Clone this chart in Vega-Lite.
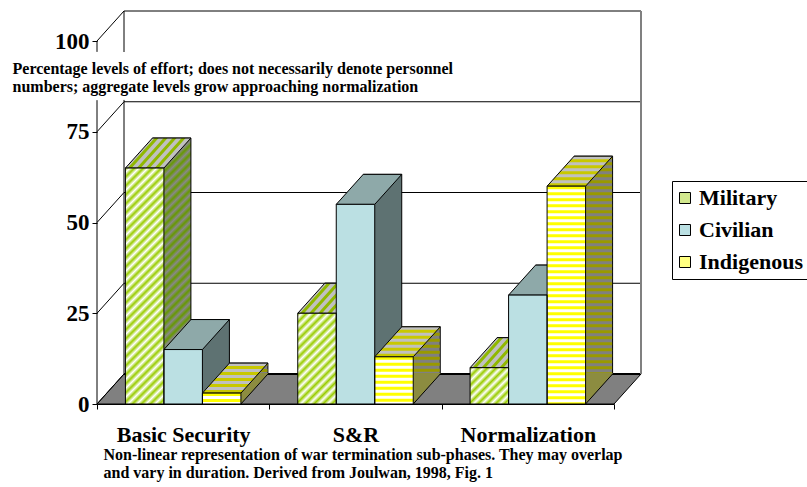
{
  "$schema": "https://vega.github.io/schema/vega-lite/v6.json",
  "width": 517,
  "height": 363,
  "autosize": {"type": "none"},
  "padding": {"left": 97, "top": 41, "right": 193, "bottom": 83},
  "background": "white",
  "config": {
    "view": {"stroke": null},
    "font": "Liberation Serif",
    "axis": {"labelFont": "Liberation Serif", "titleFont": "Liberation Serif"},
    "legend": {"labelFont": "Liberation Serif"}
  },
  "data": {"values": [
    {"phase": "Basic Security", "series": "Military", "value": 65},
    {"phase": "Basic Security", "series": "Civilian", "value": 15},
    {"phase": "Basic Security", "series": "Indigenous", "value": 3},
    {"phase": "S&R", "series": "Military", "value": 25},
    {"phase": "S&R", "series": "Civilian", "value": 55},
    {"phase": "S&R", "series": "Indigenous", "value": 13},
    {"phase": "Normalization", "series": "Military", "value": 10},
    {"phase": "Normalization", "series": "Civilian", "value": 30},
    {"phase": "Normalization", "series": "Indigenous", "value": 60}
  ]},
  "resolve": {"scale": {"x": "independent", "xOffset": "independent"}},
  "layer": [
    {
      "data": {"values": [{}]},
      "mark": {"type": "point", "shape": "M0,0 L517,0 L544,-30 L27,-30 Z", "size": 4, "filled": true, "fill": "#808080", "stroke": "black", "strokeWidth": 1, "opacity": 1},
      "encoding": {
        "x": {"datum": 0, "type": "quantitative", "scale": {"domain": [0, 3]}, "axis": null},
        "y": {
          "datum": 0, "type": "quantitative",
          "scale": {"domain": [0, 100], "nice": false},
          "axis": {
            "values": [0, 25, 50, 75, 100], "tickSize": 5, "tickColor": "black", "domain": false, "grid": false,
            "labelFont": "Liberation Serif", "labelFontSize": 23, "labelFontWeight": "bold", "labelColor": "black", "labelPadding": 3,
            "title": ["Percentage levels of effort; does not necessarily denote personnel", "numbers; aggregate levels grow approaching normalization"],
            "titleX": -85, "titleY": 32, "titleAngle": 0, "titleAlign": "left", "titleBaseline": "alphabetic",
            "titleFont": "Liberation Serif", "titleFontSize": 16, "titleFontWeight": "bold", "titleColor": "black", "titleLineHeight": 18
          }
        }
      }
    },
    {
      "data": {"values": [{"v": 0}, {"v": 25}, {"v": 50}, {"v": 75}, {"v": 100}]},
      "encoding": {"x": {"datum": 0, "type": "quantitative", "scale": {"domain": [0, 3]}, "axis": null}},
      "layer": [
        {
          "mark": {"type": "rule", "color": "black", "xOffset": 27, "x2Offset": 27, "yOffset": -30},
          "encoding": {
            "x2": {"datum": 3},
            "y": {"field": "v", "type": "quantitative"},
            "strokeWidth": {"condition": {"test": "datum.v === 0", "value": 2}, "value": 1}
          }
        },
        {
          "mark": {"type": "rule", "color": "black", "strokeWidth": 1, "x2Offset": 27, "y2Offset": -30},
          "encoding": {
            "x2": {"datum": 0},
            "y": {"field": "v", "type": "quantitative"},
            "y2": {"field": "v"}
          }
        },
        {
          "data": {"values": [{}]},
          "mark": {"type": "rule", "color": "black", "strokeWidth": 1, "xOffset": 27, "yOffset": -30, "y2Offset": -30},
          "encoding": {"y": {"datum": 0, "type": "quantitative"}, "y2": {"datum": 75.5}}
        },
        {
          "data": {"values": [{}]},
          "mark": {"type": "rule", "color": "black", "strokeWidth": 1, "xOffset": 27, "yOffset": -30, "y2Offset": -30},
          "encoding": {"y": {"datum": 88.7, "type": "quantitative"}, "y2": {"datum": 100}}
        },
        {
          "data": {"values": [{}]},
          "mark": {"type": "rule", "color": "black", "strokeWidth": 1},
          "encoding": {"y": {"datum": 0, "type": "quantitative"}, "y2": {"datum": 83.7}}
        },
        {
          "data": {"values": [{}]},
          "mark": {"type": "rule", "color": "black", "strokeWidth": 1},
          "encoding": {"y": {"datum": 97, "type": "quantitative"}, "y2": {"datum": 100}}
        },
        {
          "data": {"values": [{}]},
          "mark": {"type": "rule", "color": "#808080", "strokeWidth": 2, "xOffset": 27, "yOffset": -30, "y2Offset": -30},
          "encoding": {"x": {"datum": 3, "type": "quantitative", "axis": null}, "y": {"datum": 0, "type": "quantitative"}, "y2": {"datum": 100}}
        }
      ]
    },
    {
      "encoding": {
        "x": {"field": "phase", "type": "nominal", "sort": ["Basic Security", "S&R", "Normalization"], "scale": {"range": [27, 544], "paddingInner": 0, "paddingOuter": 0}, "axis": null},
        "xOffset": {"field": "series", "type": "nominal", "sort": ["Military", "Civilian", "Indigenous"], "scale": {"paddingInner": 0, "paddingOuter": 0.7381}},
        "y": {"field": "value", "type": "quantitative"}
      },
      "layer": [
        {
          "mark": {"type": "bar", "yOffset": -30, "y2Offset": -30, "stroke": "black", "strokeWidth": 1},
          "encoding": {
            "y2": {"datum": 0},
            "fill": {"condition": [
              {"test": "datum.series === 'Military' && datum.phase === 'Basic Security'", "value": {"gradient": "linear", "x1": 0, "y1": 0, "x2": 0.1848, "y2": 1.133, "stops": [{"offset":0,"color":"#690"},{"offset":0.0164,"color":"#888"},{"offset":0.0328,"color":"#690"},{"offset":0.0492,"color":"#888"},{"offset":0.0656,"color":"#690"},{"offset":0.082,"color":"#888"},{"offset":0.0984,"color":"#690"},{"offset":0.1148,"color":"#888"},{"offset":0.1311,"color":"#690"},{"offset":0.1475,"color":"#888"},{"offset":0.1639,"color":"#690"},{"offset":0.1803,"color":"#888"},{"offset":0.1967,"color":"#690"},{"offset":0.2131,"color":"#888"},{"offset":0.2295,"color":"#690"},{"offset":0.2459,"color":"#888"},{"offset":0.2623,"color":"#690"},{"offset":0.2787,"color":"#888"},{"offset":0.2951,"color":"#690"},{"offset":0.3115,"color":"#888"},{"offset":0.3279,"color":"#690"},{"offset":0.3443,"color":"#888"},{"offset":0.3607,"color":"#690"},{"offset":0.377,"color":"#888"},{"offset":0.3934,"color":"#690"},{"offset":0.4098,"color":"#888"},{"offset":0.4262,"color":"#690"},{"offset":0.4426,"color":"#888"},{"offset":0.459,"color":"#690"},{"offset":0.4754,"color":"#888"},{"offset":0.4918,"color":"#690"},{"offset":0.5082,"color":"#888"},{"offset":0.5246,"color":"#690"},{"offset":0.541,"color":"#888"},{"offset":0.5574,"color":"#690"},{"offset":0.5738,"color":"#888"},{"offset":0.5902,"color":"#690"},{"offset":0.6066,"color":"#888"},{"offset":0.623,"color":"#690"},{"offset":0.6393,"color":"#888"},{"offset":0.6557,"color":"#690"},{"offset":0.6721,"color":"#888"},{"offset":0.6885,"color":"#690"},{"offset":0.7049,"color":"#888"},{"offset":0.7213,"color":"#690"},{"offset":0.7377,"color":"#888"},{"offset":0.7541,"color":"#690"},{"offset":0.7705,"color":"#888"},{"offset":0.7869,"color":"#690"},{"offset":0.8033,"color":"#888"},{"offset":0.8197,"color":"#690"},{"offset":0.8361,"color":"#888"},{"offset":0.8525,"color":"#690"},{"offset":0.8689,"color":"#888"},{"offset":0.8852,"color":"#690"},{"offset":0.9016,"color":"#888"},{"offset":0.918,"color":"#690"},{"offset":0.9344,"color":"#888"},{"offset":0.9508,"color":"#690"},{"offset":0.9672,"color":"#888"},{"offset":0.9836,"color":"#690"},{"offset":1,"color":"#888"}]}},
              {"test": "datum.series === 'Military' && datum.phase === 'S&R'", "value": {"gradient": "linear", "x1": 0, "y1": 0, "x2": 0.5121, "y2": 1.207, "stops": [{"offset":0,"color":"#690"},{"offset":0.0345,"color":"#888"},{"offset":0.069,"color":"#690"},{"offset":0.1034,"color":"#888"},{"offset":0.1379,"color":"#690"},{"offset":0.1724,"color":"#888"},{"offset":0.2069,"color":"#690"},{"offset":0.2414,"color":"#888"},{"offset":0.2759,"color":"#690"},{"offset":0.3103,"color":"#888"},{"offset":0.3448,"color":"#690"},{"offset":0.3793,"color":"#888"},{"offset":0.4138,"color":"#690"},{"offset":0.4483,"color":"#888"},{"offset":0.4828,"color":"#690"},{"offset":0.5172,"color":"#888"},{"offset":0.5517,"color":"#690"},{"offset":0.5862,"color":"#888"},{"offset":0.6207,"color":"#690"},{"offset":0.6552,"color":"#888"},{"offset":0.6897,"color":"#690"},{"offset":0.7241,"color":"#888"},{"offset":0.7586,"color":"#690"},{"offset":0.7931,"color":"#888"},{"offset":0.8276,"color":"#690"},{"offset":0.8621,"color":"#888"},{"offset":0.8966,"color":"#690"},{"offset":0.931,"color":"#888"},{"offset":0.9655,"color":"#690"},{"offset":1,"color":"#888"}]}},
              {"test": "datum.series === 'Military'", "value": {"gradient": "linear", "x1": 0, "y1": 0, "x2": 1.0285, "y2": 0.9698, "stops": [{"offset":0,"color":"#690"},{"offset":0.0588,"color":"#888"},{"offset":0.1176,"color":"#690"},{"offset":0.1765,"color":"#888"},{"offset":0.2353,"color":"#690"},{"offset":0.2941,"color":"#888"},{"offset":0.3529,"color":"#690"},{"offset":0.4118,"color":"#888"},{"offset":0.4706,"color":"#690"},{"offset":0.5294,"color":"#888"},{"offset":0.5882,"color":"#690"},{"offset":0.6471,"color":"#888"},{"offset":0.7059,"color":"#690"},{"offset":0.7647,"color":"#888"},{"offset":0.8235,"color":"#690"},{"offset":0.8824,"color":"#888"},{"offset":0.9412,"color":"#690"},{"offset":1,"color":"#888"}]}},
              {"test": "datum.series === 'Civilian'", "value": "#5e7272"}
            ], "value": "#808080"}
          }
        },
        {
          "transform": [{"filter": "datum.series === 'Indigenous'"}],
          "mark": {"type": "rule", "yOffset": -30, "y2Offset": -30, "strokeWidth": 37.5, "strokeDash": [3, 3], "color": "#999900"},
          "encoding": {"y2": {"datum": 0}}
        }
      ]
    },
    {
      "encoding": {
        "x": {
          "field": "phase", "type": "nominal", "sort": ["Basic Security", "S&R", "Normalization"],
          "scale": {"paddingInner": 0, "paddingOuter": 0},
          "axis": {
            "title": ["Non-linear representation of war termination sub-phases.  They may overlap", "and vary in duration.  Derived from Joulwan, 1998, Fig. 1"],
            "titleX": 6, "titleY": 55, "titleAlign": "left", "titleAnchor": "start", "titleBaseline": "alphabetic",
            "titleFont": "Liberation Serif", "titleFontSize": 16, "titleFontWeight": "bold", "titleColor": "black", "titleLineHeight": 18,
            "labelAngle": 0, "labelFont": "Liberation Serif", "labelFontSize": 22, "labelFontWeight": "bold", "labelColor": "black", "labelPadding": 15,
            "tickBand": "extent", "tickSize": 5, "tickColor": "black", "domainColor": "black", "grid": false
          }
        },
        "xOffset": {"field": "series", "type": "nominal", "sort": ["Military", "Civilian", "Indigenous"], "scale": {"paddingInner": 0, "paddingOuter": 0.7381}},
        "y": {"field": "value", "type": "quantitative"}
      },
      "layer": [
        {
          "mark": {"type": "point", "shape": "M19.25,0 L19.25,-31 L46.25,-31 L46.25,-30 Z", "size": 4, "filled": true, "opacity": 1, "strokeWidth": 0},
          "encoding": {
            "y": {"datum": 0, "type": "quantitative"},
            "fill": {"condition": [{"test": "datum.series === 'Military'", "value": "#777f55"}, {"test": "datum.series === 'Civilian'", "value": "#5e7272"}], "value": "#8c8c40"}
          }
        },
        {
          "mark": {"type": "point", "shape": "M19.25,0 L46.25,-30", "size": 4, "filled": false, "fill": "transparent", "opacity": 1, "stroke": "black", "strokeWidth": 1},
          "encoding": {"y": {"datum": 0, "type": "quantitative"}}
        },
        {
          "mark": {"type": "point", "shape": "M-19.25,0 L19.25,0 L46.25,-30 L7.75,-30 Z", "size": 4, "filled": true, "opacity": 1, "strokeWidth": 0},
          "encoding": {"fill": {"condition": [{"test": "datum.series === 'Civilian'", "value": "#8ea9a9"}], "value": "#c0c0c0"}}
        },
        {
          "transform": [{"filter": "datum.series === 'Military'"}],
          "mark": {"type": "point", "shape": "M-17,0 L-13,0 L14,-30 L10,-30 Z M-8,0 L-4,0 L23,-30 L19,-30 Z M1,0 L5,0 L32,-30 L28,-30 Z M10,0 L14,0 L41,-30 L37,-30 Z", "size": 4, "filled": true, "fill": "#90b800", "opacity": 1, "strokeWidth": 0}
        },
        {
          "transform": [{"filter": "datum.series === 'Indigenous'"}],
          "mark": {"type": "point", "shape": "M-19.25,0 L19.25,0 L21.95,-3 L-16.55,-3 Z M-13.85,-6 L24.65,-6 L27.35,-9 L-11.15,-9 Z M-8.45,-12 L30.05,-12 L32.75,-15 L-5.75,-15 Z M-3.05,-18 L35.45,-18 L38.15,-21 L-0.35,-21 Z M2.35,-24 L40.85,-24 L43.55,-27 L5.05,-27 Z", "size": 4, "filled": true, "fill": "#c8c800", "opacity": 1, "strokeWidth": 0}
        },
        {
          "mark": {"type": "point", "shape": "M-19.25,0 L19.25,0 L46.25,-30 L7.75,-30 Z", "size": 4, "filled": false, "fill": "transparent", "opacity": 1, "stroke": "black", "strokeWidth": 1}
        },
        {
          "mark": {"type": "bar"},
          "encoding": {
            "fill": {
              "field": "series", "type": "nominal",
              "scale": {"domain": ["Military", "Civilian", "Indigenous"], "range": ["#d2e88e", "#bbe0e3", "#ffff80"]},
              "legend": {
                "orient": "none", "legendX": 575, "legendY": 140, "title": null,
                "symbolType": "square", "symbolSize": 121, "symbolStrokeColor": "black", "symbolStrokeWidth": 1, "symbolOffset": -4,
                "labelFont": "Liberation Serif", "labelFontSize": 22, "labelFontWeight": "bold", "labelColor": "black",
                "strokeColor": "black", "fillColor": "white", "padding": 6, "rowPadding": 10, "labelOffset": 3
              },
              "condition": [
                {"test": "datum.series === 'Military' && datum.phase === 'Basic Security'", "value": {"gradient": "linear", "x1": 0, "y1": 0, "x2": 0.1848, "y2": 1.133, "stops": [{"offset":0,"color":"#9c0"},{"offset":0.0164,"color":"#fff"},{"offset":0.0328,"color":"#9c0"},{"offset":0.0492,"color":"#fff"},{"offset":0.0656,"color":"#9c0"},{"offset":0.082,"color":"#fff"},{"offset":0.0984,"color":"#9c0"},{"offset":0.1148,"color":"#fff"},{"offset":0.1311,"color":"#9c0"},{"offset":0.1475,"color":"#fff"},{"offset":0.1639,"color":"#9c0"},{"offset":0.1803,"color":"#fff"},{"offset":0.1967,"color":"#9c0"},{"offset":0.2131,"color":"#fff"},{"offset":0.2295,"color":"#9c0"},{"offset":0.2459,"color":"#fff"},{"offset":0.2623,"color":"#9c0"},{"offset":0.2787,"color":"#fff"},{"offset":0.2951,"color":"#9c0"},{"offset":0.3115,"color":"#fff"},{"offset":0.3279,"color":"#9c0"},{"offset":0.3443,"color":"#fff"},{"offset":0.3607,"color":"#9c0"},{"offset":0.377,"color":"#fff"},{"offset":0.3934,"color":"#9c0"},{"offset":0.4098,"color":"#fff"},{"offset":0.4262,"color":"#9c0"},{"offset":0.4426,"color":"#fff"},{"offset":0.459,"color":"#9c0"},{"offset":0.4754,"color":"#fff"},{"offset":0.4918,"color":"#9c0"},{"offset":0.5082,"color":"#fff"},{"offset":0.5246,"color":"#9c0"},{"offset":0.541,"color":"#fff"},{"offset":0.5574,"color":"#9c0"},{"offset":0.5738,"color":"#fff"},{"offset":0.5902,"color":"#9c0"},{"offset":0.6066,"color":"#fff"},{"offset":0.623,"color":"#9c0"},{"offset":0.6393,"color":"#fff"},{"offset":0.6557,"color":"#9c0"},{"offset":0.6721,"color":"#fff"},{"offset":0.6885,"color":"#9c0"},{"offset":0.7049,"color":"#fff"},{"offset":0.7213,"color":"#9c0"},{"offset":0.7377,"color":"#fff"},{"offset":0.7541,"color":"#9c0"},{"offset":0.7705,"color":"#fff"},{"offset":0.7869,"color":"#9c0"},{"offset":0.8033,"color":"#fff"},{"offset":0.8197,"color":"#9c0"},{"offset":0.8361,"color":"#fff"},{"offset":0.8525,"color":"#9c0"},{"offset":0.8689,"color":"#fff"},{"offset":0.8852,"color":"#9c0"},{"offset":0.9016,"color":"#fff"},{"offset":0.918,"color":"#9c0"},{"offset":0.9344,"color":"#fff"},{"offset":0.9508,"color":"#9c0"},{"offset":0.9672,"color":"#fff"},{"offset":0.9836,"color":"#9c0"},{"offset":1,"color":"#fff"}]}},
                {"test": "datum.series === 'Military' && datum.phase === 'S&R'", "value": {"gradient": "linear", "x1": 0, "y1": 0, "x2": 0.5121, "y2": 1.207, "stops": [{"offset":0,"color":"#9c0"},{"offset":0.0345,"color":"#fff"},{"offset":0.069,"color":"#9c0"},{"offset":0.1034,"color":"#fff"},{"offset":0.1379,"color":"#9c0"},{"offset":0.1724,"color":"#fff"},{"offset":0.2069,"color":"#9c0"},{"offset":0.2414,"color":"#fff"},{"offset":0.2759,"color":"#9c0"},{"offset":0.3103,"color":"#fff"},{"offset":0.3448,"color":"#9c0"},{"offset":0.3793,"color":"#fff"},{"offset":0.4138,"color":"#9c0"},{"offset":0.4483,"color":"#fff"},{"offset":0.4828,"color":"#9c0"},{"offset":0.5172,"color":"#fff"},{"offset":0.5517,"color":"#9c0"},{"offset":0.5862,"color":"#fff"},{"offset":0.6207,"color":"#9c0"},{"offset":0.6552,"color":"#fff"},{"offset":0.6897,"color":"#9c0"},{"offset":0.7241,"color":"#fff"},{"offset":0.7586,"color":"#9c0"},{"offset":0.7931,"color":"#fff"},{"offset":0.8276,"color":"#9c0"},{"offset":0.8621,"color":"#fff"},{"offset":0.8966,"color":"#9c0"},{"offset":0.931,"color":"#fff"},{"offset":0.9655,"color":"#9c0"},{"offset":1,"color":"#fff"}]}},
                {"test": "datum.series === 'Military'", "value": {"gradient": "linear", "x1": 0, "y1": 0, "x2": 1.0285, "y2": 0.9698, "stops": [{"offset":0,"color":"#9c0"},{"offset":0.0588,"color":"#fff"},{"offset":0.1176,"color":"#9c0"},{"offset":0.1765,"color":"#fff"},{"offset":0.2353,"color":"#9c0"},{"offset":0.2941,"color":"#fff"},{"offset":0.3529,"color":"#9c0"},{"offset":0.4118,"color":"#fff"},{"offset":0.4706,"color":"#9c0"},{"offset":0.5294,"color":"#fff"},{"offset":0.5882,"color":"#9c0"},{"offset":0.6471,"color":"#fff"},{"offset":0.7059,"color":"#9c0"},{"offset":0.7647,"color":"#fff"},{"offset":0.8235,"color":"#9c0"},{"offset":0.8824,"color":"#fff"},{"offset":0.9412,"color":"#9c0"},{"offset":1,"color":"#fff"}]}},
                {"test": "datum.series === 'Indigenous'", "value": "white"}
              ]
            }
          }
        },
        {
          "transform": [{"filter": "datum.series === 'Indigenous'"}],
          "mark": {"type": "rule", "strokeWidth": 38.5, "strokeDash": [3, 3], "color": "#ffff00"},
          "encoding": {"y2": {"datum": 0}}
        },
        {
          "mark": {"type": "bar", "filled": false, "fill": "transparent", "stroke": "black", "strokeWidth": 1}
        }
      ]
    }
  ]
}
